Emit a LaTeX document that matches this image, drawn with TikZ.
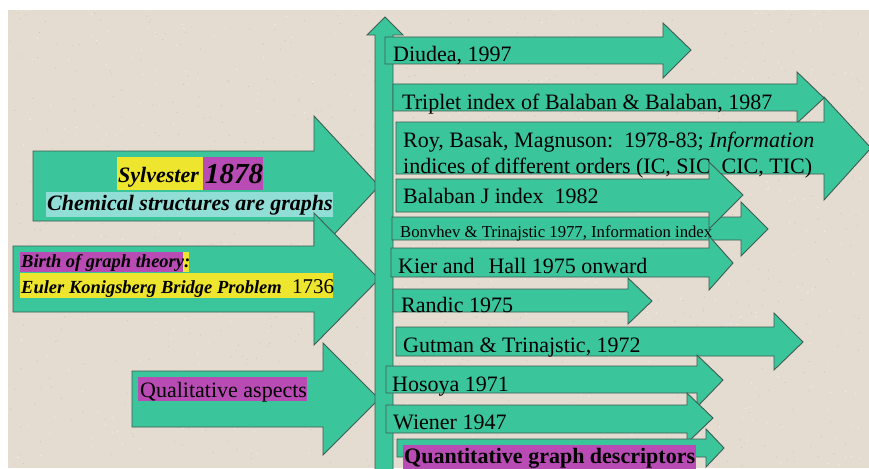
\documentclass[tikz,border=0pt]{standalone}
\usepackage{fontspec}
\setmainfont{Liberation Serif}
\definecolor{bgbeige}{RGB}{228,220,208}
\definecolor{speckD}{RGB}{205,195,182}
\definecolor{speckL}{RGB}{242,237,229}
\definecolor{tealfill}{RGB}{59,197,155}
\definecolor{edgecol}{RGB}{62,92,82}
\definecolor{hlM}{RGB}{184,76,180}
\definecolor{hlY}{RGB}{237,229,46}
\definecolor{hlC}{RGB}{144,222,214}
\newcommand\fsize[1]{\fontsize{#1}{26}\selectfont}
\newcommand\rarr[8]{%
  \draw[arr] (#1,#2) -- (#4,#2) -- (#4,#5) -- (#7,#8) -- (#4,#6) -- (#4,#3) -- (#1,#3) -- cycle;}
\tikzset{
  arr/.style={fill=tealfill, draw=edgecol, line width=0.9pt, line join=miter},
  lbl/.style={anchor=base west, inner sep=0pt, text=black, font=\fsize{22}},
  bi/.style={font=\fsize{#1}\bfseries\itshape},
}
\begin{document}
\begin{tikzpicture}[x=1pt,y=-1pt]
\useasboundingbox (0,0) rectangle (869,468);
\fill[white] (0,0) rectangle (869,468);
\fill[bgbeige] (8,10) rectangle (869,468);
% background speckle texture
\pgfmathsetseed{11}
\foreach \i in {1,...,700}{
  \pgfmathsetmacro\px{10+857*rnd}
  \pgfmathsetmacro\py{12+454*rnd}
  \fill[speckD] (\px,\py) circle (0.55pt);
}
\foreach \i in {1,...,500}{
  \pgfmathsetmacro\px{10+857*rnd}
  \pgfmathsetmacro\py{12+454*rnd}
  \fill[speckL] (\px,\py) circle (0.7pt);
}

% ---- left arrows ----
\rarr{33}{151}{221}{314}{116}{256}{379}{186}
\fill[hlY] (117,157) rectangle (203,190);
\fill[hlM] (203,157) rectangle (263,190);
\node[lbl, bi=22] (syl) at (118,182) {Sylvester};
\node[lbl, bi=29] (year1878) at (205,183) {1878};
\fill[hlC] (46,192) rectangle (333,217);
\node[lbl, bi=22] (chem) at (47,210) {Chemical structures are graphs};

\rarr{13}{246}{312}{314}{213}{345}{379}{279}
\fill[hlM] (20,252) rectangle (183,272);
\fill[hlY] (183,252) rectangle (189,272);
\node[lbl, bi=18.5] (birth) at (21,267) {Birth of graph theory:};
\fill[hlY] (20,273) rectangle (333,298);
\node[lbl, bi=18.5] (euler) at (21,293) {Euler Konigsberg Bridge Problem};
\node[lbl, font=\fsize{21}] (y1736) at (292,293) {1736};

\rarr{132}{371}{427}{323}{343}{455}{379}{399}
\fill[hlM] (138,377) rectangle (307,401);
\node[lbl] (qual) at (140,397) {Qualitative aspects};

% ---- vertical time axis ----
\draw[arr] (375,475) -- (375,35) -- (367,35) -- (385,17) -- (403,35) -- (393,35) -- (393,475) -- cycle;

% ---- right arrows ----
\rarr{385}{37}{64}{663}{23}{78}{691}{50}
\node[lbl] (diudea) at (393,62) {Diudea, 1997};

\rarr{393}{84}{111}{797}{72}{123}{824}{98}
\node[lbl] (triplet) at (402,110) {Triplet index of Balaban \& Balaban, 1987};

\rarr{396}{122}{174}{824}{97}{200}{871}{148}
\node[lbl] (roy1) at (403,147) {Roy, Basak, Magnuson:\ \ 1978-83; \textit{Information}};
\node[lbl] (roy2) at (403,173) {indices of different orders (IC, SIC, CIC, TIC)};

\rarr{392}{217}{240}{741}{202}{256}{768}{229}
\node[lbl, font=\fsize{16.7}] (bonv) at (400,237) {Bonvhev \& Trinajstic 1977, Information index};

\rarr{396}{179}{212}{709}{162}{229}{743}{195}
\node[lbl] (balJ) at (403,203) {Balaban J index\ \ 1982};

\rarr{391}{248}{277}{709}{236}{290}{733}{263}
\node[lbl] (kier) at (398,273) {Kier and\hspace{14pt}Hall 1975 onward};

\rarr{393}{289}{312}{628}{278}{324}{652}{301}
\node[lbl] (randic) at (401,312) {Randic 1975};

\rarr{396}{327}{356}{774}{313}{370}{803}{342}
\node[lbl] (gutman) at (403,352) {Gutman \& Trinajstic, 1972};

\rarr{386}{366}{393}{697}{355}{407}{723}{380}
\node[lbl] (hosoya) at (392,391) {Hosoya 1971};

\rarr{386}{405}{433}{687}{393}{443}{713}{418}
\node[lbl] (wiener) at (393,429) {Wiener 1947};

\rarr{397}{439}{457}{706}{429}{467}{724}{448}
\fill[hlM] (403,445) rectangle (696,472);
\node[lbl, font=\fsize{22}\bfseries] (quant) at (404,463) {Quantitative graph descriptors};
\end{tikzpicture}
\end{document}
